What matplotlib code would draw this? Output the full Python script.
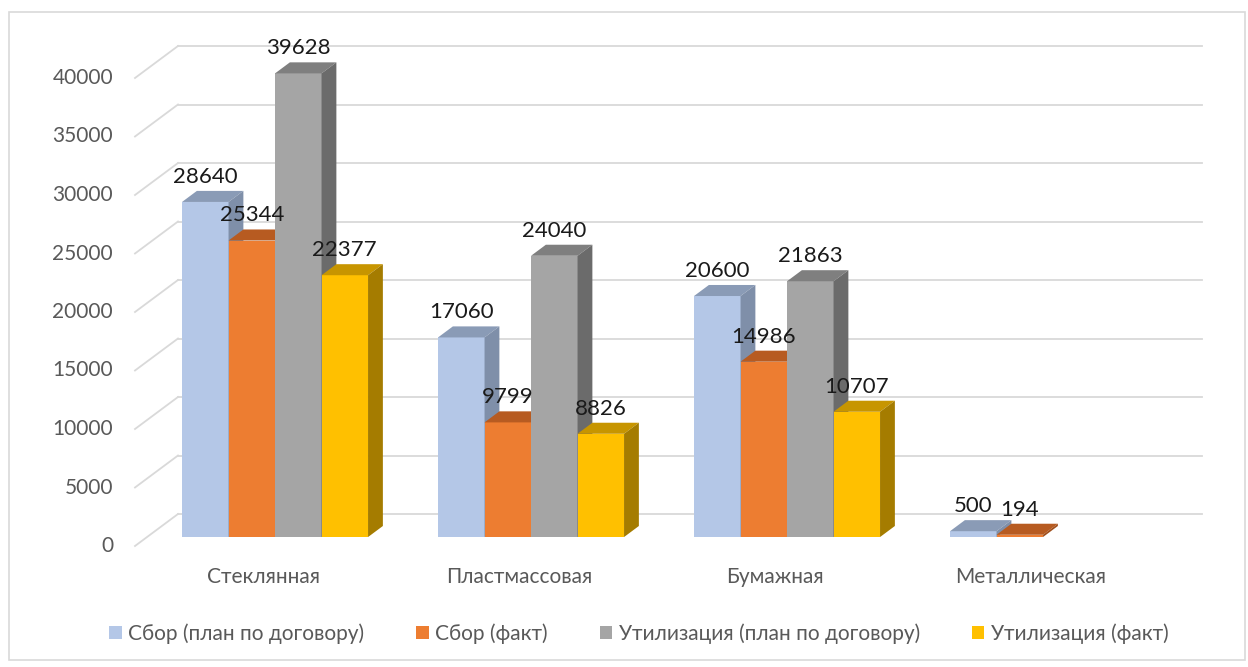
import numpy as np
import matplotlib
matplotlib.use("Agg")
import matplotlib.pyplot as plt
from matplotlib.patches import Polygon, Rectangle, Patch

plt.rcParams['font.family'] = ['Lato', 'DejaVu Sans']

categories = ['Стеклянная', 'Пластмассовая', 'Бумажная', 'Металлическая']
series_names = ['Сбор (план по договору)', 'Сбор (факт)',
                'Утилизация (план по договору)', 'Утилизация (факт)']
sbor_plan = [28640, 17060, 20600, 500]
sbor_fakt = [25344, 9799, 14986, 194]
util_plan = [39628, 24040, 21863, np.nan]
util_fakt = [22377, 8826, 10707, np.nan]
yticks = [0, 5000, 10000, 15000, 20000, 25000, 30000, 35000, 40000]

series = [sbor_plan, sbor_fakt, util_plan, util_fakt]
# front, top, side colours of each series
colors = [('#B4C7E7', '#8A9BB6', '#7F8FA9'),
          ('#ED7D31', '#B75B21', '#A04F1C'),
          ('#A5A5A5', '#7F7F7F', '#6B6B6B'),
          ('#FFC000', '#C79500', '#A57C00')]

W, H = 1248, 667
fig = plt.figure(figsize=(W / 100, H / 100), dpi=100)
ax = fig.add_axes([0, 0, 1, 1])

# scale: 256 px per category, 11.7 px per 1000
px_cat = 256.0
px_val = 0.0117
x0_px, y0_px = 263.0, 546.0
ax.set_xlim(-x0_px / px_cat, (W - x0_px) / px_cat)
ax.set_ylim(-(H - y0_px) / px_val, y0_px / px_val)
ax.axis('off')

# depth offset (floor front -> back wall)
DX = 43 / px_cat
DY = 32 / px_val
zf, zb = 0.28, 0.625
bw = 46.5 / px_cat

grid_c = '#D9D9D9'
left, right = -0.5, len(categories) - 0.5
for v in yticks:
    ax.plot([left + DX, right + DX], [v + DY, v + DY], color=grid_c, lw=1.3, zorder=1)
    ax.plot([left, left + DX], [v, v + DY], color=grid_c, lw=1.3, zorder=1)
    ax.text(left - 22 / px_cat, v, str(v), ha='right', va='center',
            fontsize=15, color='#595959')

for i, cat in enumerate(categories):
    ax.text(i, -31 / px_val, cat, ha='center', va='center',
            fontsize=15, color='#595959')

z = 2
for i in range(len(categories)):
    for j, s in enumerate(series):
        h = s[i]
        if np.isnan(h):
            continue
        fc, tc, sc = colors[j]
        xl = i + (j - 2) * bw + zf * DX
        xr = xl + bw
        yb = zf * DY
        yt = h + zf * DY
        ddx = (zb - zf) * DX
        ddy = (zb - zf) * DY
        ax.bar(xl, h, width=bw, bottom=yb, align='edge', color=fc, lw=0, zorder=z)
        ax.add_patch(Polygon([(xl, yt), (xr, yt), (xr + ddx, yt + ddy), (xl + ddx, yt + ddy)],
                             closed=True, facecolor=tc, lw=0, zorder=z))
        ax.add_patch(Polygon([(xr, yb), (xr + ddx, yb + ddy), (xr + ddx, yt + ddy), (xr, yt)],
                             closed=True, facecolor=sc, lw=0, zorder=z))
        z += 1

for i in range(len(categories)):
    for j, s in enumerate(series):
        h = s[i]
        if np.isnan(h):
            continue
        xc = i + (j - 1.5) * bw + zf * DX
        ax.text(xc, h + zb * DY + 14 / px_val, str(int(h)), ha='center', va='center',
                fontsize=16, color='#1A1A1A', zorder=100)

handles = [Patch(facecolor=c[0], edgecolor='none') for c in colors]
fig.legend(handles, series_names, loc='center', bbox_to_anchor=(0.512, 0.05),
           ncol=4, frameon=False, fontsize=15, handlelength=0.6, handleheight=0.6,
           handletextpad=0.3, columnspacing=2.5, labelcolor='#595959')

fig.patches.append(Rectangle((9 / W, 7 / H), 1236 / W, 648 / H, transform=fig.transFigure,
                             fill=False, edgecolor='#D9D9D9', lw=1.2))

fig.savefig('out.png', dpi=100)
